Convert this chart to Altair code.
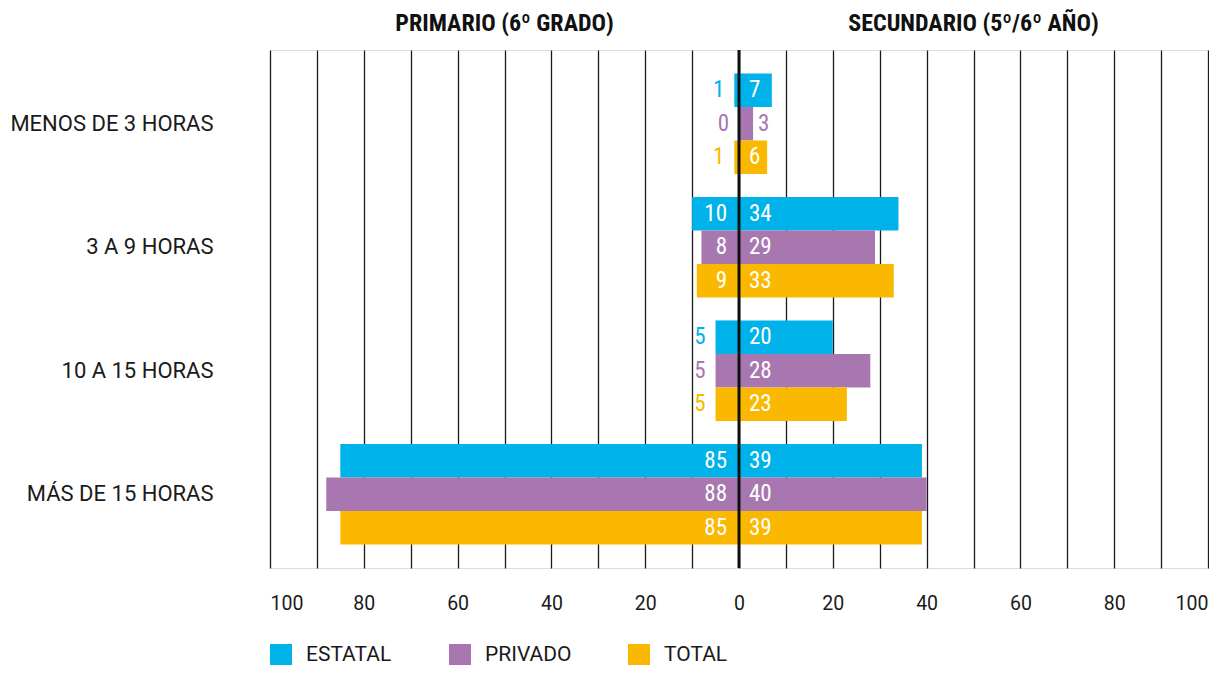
import altair as alt
import pandas as pd

categories = ["MENOS DE 3 HORAS", "3 A 9 HORAS", "10 A 15 HORAS", "MÁS DE 15 HORAS"]
series = ["ESTATAL", "PRIVADO", "TOTAL"]
colors = ["#00b2ea", "#a877b0", "#fab900"]

primario_estatal = [1, 10, 5, 85]
primario_privado = [0, 8, 5, 88]
primario_total = [1, 9, 5, 85]
secundario_estatal = [7, 34, 20, 39]
secundario_privado = [3, 29, 28, 40]
secundario_total = [6, 33, 23, 39]

headers = ["PRIMARIO (6º GRADO)", "SECUNDARIO (5º/6º AÑO)"]
header_x = [-50, 50]
x_grid = list(range(-100, 101, 10))

prim = [primario_estatal, primario_privado, primario_total]
sec = [secundario_estatal, secundario_privado, secundario_total]

rows = []
for s, pv_list, sv_list in zip(series, prim, sec):
    for c, pv, sv in zip(categories, pv_list, sv_list):
        rows.append(dict(cat=c, serie=s, side="L", value=-pv, num=pv,
                         inside=pv >= 8, anchor=0 if pv >= 8 else -pv))
        rows.append(dict(cat=c, serie=s, side="R", value=sv, num=sv,
                         inside=sv >= 5, anchor=0 if sv >= 5 else sv))
df = pd.DataFrame(rows)
df["label"] = df["num"].astype(str)

xscale = alt.Scale(domain=[-100, 100], nice=False, zero=False)
yenc = alt.Y("cat:N", sort=categories,
             scale=alt.Scale(paddingInner=0.185, paddingOuter=0.19),
             axis=alt.Axis(title=None, domain=False, ticks=False, labelFont="Roboto",
                           labelFontSize=22, labelColor="#1a1a1a", labelPadding=57,
                           labelLimit=400, grid=False))
yoff = alt.YOffset("serie:N", sort=series, scale=alt.Scale(paddingInner=0, paddingOuter=0))
cscale = alt.Scale(domain=series, range=colors)

bars = alt.Chart(df).mark_bar(opacity=1).encode(
    x=alt.X("value:Q", scale=xscale, stack=None,
            axis=alt.Axis(title=None, values=x_grid, grid=True, gridColor="#1a1a1a",
                          gridWidth=1.3, gridOpacity=1, domain=False, ticks=False,
                          labelExpr="datum.value % 20 == 0 ? abs(datum.value) : ''",
                          labelFlush=True, labelOverlap=False, labelFont="Roboto",
                          labelFontSize=19.5, labelColor="#1a1a1a", labelPadding=26)),
    y=yenc,
    yOffset=yoff,
    color=alt.Color("serie:N", scale=cscale, sort=series,
                    legend=alt.Legend(orient="none", legendX=0, legendY=594,
                                      direction="horizontal", title=None,
                                      symbolType="square", symbolSize=484,
                                      symbolStrokeWidth=0, symbolOpacity=1,
                                      labelFont="Roboto", labelFontSize=21,
                                      labelColor="#1a1a1a", labelOffset=14,
                                      columnPadding=56, gridAlign="all")),
)

lab_font = "Liberation Sans Narrow, Roboto Condensed, Open Sans"

def text_layer(side, inside, align, dx, white):
    d = df[(df.side == side) & (df.inside == inside)]
    if white:
        mk = alt.Chart(d).mark_text(align=align, baseline="middle", dx=dx, font=lab_font,
                                    fontSize=23, color="white")
    else:
        mk = alt.Chart(d).mark_text(align=align, baseline="middle", dx=dx, font=lab_font,
                                    fontSize=23)
    enc = dict(x=alt.X("anchor:Q", scale=xscale), y=alt.Y("cat:N", sort=categories),
               yOffset=yoff, text="label:N")
    if not white:
        enc["color"] = alt.Color("serie:N", scale=cscale, legend=None)
    return mk.encode(**enc)

t1 = text_layer("L", True, "right", -12, True)
t2 = text_layer("L", False, "right", -10, False)
t3 = text_layer("R", True, "left", 10, True)
t4 = text_layer("R", False, "left", 5, False)

zero = alt.Chart(pd.DataFrame({"x": [0]})).mark_rule(color="#111", strokeWidth=3).encode(
    x=alt.X("x:Q", scale=xscale))

hdr = alt.Chart(pd.DataFrame({"h": headers, "x": header_x})).mark_text(
    font="Liberation Sans Narrow, Roboto Condensed, Roboto", fontWeight="bold",
    fontSize=24, color="#111", baseline="middle", align="center").encode(
    x=alt.X("x:Q", scale=xscale), y=alt.value(-26), text="h:N")

chart = alt.layer(bars, zero, t1, t2, t3, t4, hdr).properties(
    width=938, height=518,
    padding={"left": 262, "top": 42, "right": 1, "bottom": 97},
    autosize=alt.AutoSizeParams(type="none"),
).configure_view(stroke=None).configure(background="white")

chart.save("out.html", embed_options={"renderer": "svg", "actions": False})
